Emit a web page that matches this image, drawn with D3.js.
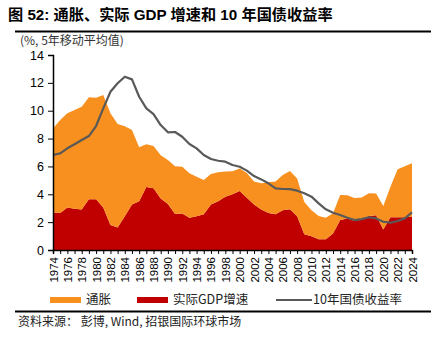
<!DOCTYPE html>
<html>
<head>
<meta charset="utf-8">
<script src="https://cdn.jsdelivr.net/npm/d3@7"></script>
<style>
  body { margin: 0; background: #fff; }
  svg { display: block; }
  text { font-family: "Liberation Sans", Arial, "Noto Sans CJK SC", sans-serif; }
</style>
</head>
<body>
<svg id="chart"></svg>
<script>
////////////
// DATA
////////////
const years = d3.range(1974, 2025);

// real GDP growth, % (5y moving average)
const realGdp = [2.70, 2.66, 3.06, 2.96, 2.91, 3.65, 3.65, 3.06, 1.80, 1.61,
  2.42, 3.26, 3.50, 4.52, 4.44, 3.70, 3.31, 2.59, 2.62, 2.32,
  2.42, 2.57, 3.26, 3.50, 3.83, 4.00, 4.24, 3.75, 3.26, 2.91,
  2.66, 2.57, 2.86, 2.93, 2.42, 1.13, 0.99, 0.77, 0.77, 1.18,
  2.15, 2.27, 2.10, 2.25, 2.44, 2.49, 1.48, 2.35, 2.35, 2.35, 2.39];

// inflation, % (5y moving average), stacked on top of real GDP
const inflation = [6.03, 6.67, 6.75, 7.09, 7.37, 7.31, 7.28, 8.06, 8.01, 7.43,
  6.46, 5.36, 3.87, 3.08, 3.02, 3.11, 3.15, 3.43, 3.36, 3.19,
  2.84, 2.46, 2.20, 2.08, 1.80, 1.65, 1.62, 1.78, 1.65, 1.88,
  2.20, 2.34, 2.52, 2.75, 2.71, 2.32, 1.87, 1.67, 1.55, 1.46,
  1.80, 1.66, 1.63, 1.52, 1.63, 1.56, 1.68, 2.19, 3.44, 3.67, 3.83];

// 10y treasury yield, % (5y moving average)
const yield10 = [6.82, 6.94, 7.30, 7.59, 7.90, 8.18, 8.90, 10.17, 11.36, 11.97,
  12.44, 12.25, 11.00, 10.17, 9.76, 8.97, 8.45, 8.47, 8.13, 7.61,
  7.30, 6.82, 6.53, 6.41, 6.34, 6.10, 5.98, 5.70, 5.31, 5.07,
  4.79, 4.43, 4.38, 4.37, 4.26, 4.07, 3.83, 3.35, 2.92, 2.68,
  2.51, 2.32, 2.15, 2.22, 2.35, 2.27, 2.03, 1.96, 2.08, 2.27, 2.70];

const yTicks = [0, 2, 4, 6, 8, 10, 12, 14];

const legendItems = [
  { label: "通胀", color: "#F7901E", type: "rect" },
  { label: "实际GDP增速", color: "#C00000", type: "rect" },
  { label: "10年国债收益率", color: "#595959", type: "line" }
];

////////////
// SETUP
////////////
const width = 440, height = 341;
const svg = d3.select("#chart").attr("width", width).attr("height", height);

const x = d3.scaleLinear().domain([1974, 2024]).range([53, 412]);
const y = d3.scaleLinear().domain([0, 14]).range([250, 55]);

const rows = years.map((yr, i) => ({ year: yr, gdp: realGdp[i], cpi: inflation[i], y10: yield10[i] }));

// title + rules
svg.append("text")
  .attr("x", 8).attr("y", 20)
  .attr("font-size", 15.2).attr("font-weight", "bold")
  .attr("fill", "#000")
  .text("图 52: 通胀、实际 GDP 增速和 10 年国债收益率");

svg.append("line")
  .attr("x1", 15).attr("x2", 431).attr("y1", 31.5).attr("y2", 31.5)
  .attr("stroke", "#000").attr("stroke-width", 2);

svg.append("text")
  .attr("x", 20).attr("y", 45)
  .attr("font-size", 12).attr("fill", "#333")
  .style("font-family", "'Noto Sans CJK SC', sans-serif")
  .text("(%, 5年移动平均值)");

////////////
// DRAWING
////////////
const stacked = d3.stack().keys(["gdp", "cpi"])(rows);
const colors = { gdp: "#C00000", cpi: "#F7901E" };

const area = d3.area()
  .x(d => x(d.data.year))
  .y0(d => y(d[0]))
  .y1(d => y(d[1]));

svg.append("g")
  .selectAll("path")
  .data(stacked)
  .join("path")
  .attr("d", area)
  .attr("fill", d => colors[d.key]);

const line = d3.line().x(d => x(d.year)).y(d => y(d.y10));
svg.append("path")
  .datum(rows)
  .attr("d", line)
  .attr("fill", "none")
  .attr("stroke", "#595959")
  .attr("stroke-width", 2.2)
  .attr("stroke-linejoin", "round");

// y axis
const yAxis = svg.append("g")
  .attr("transform", "translate(53,0)")
  .call(d3.axisLeft(y).tickValues(yTicks).tickSize(5).tickPadding(4));
yAxis.select(".domain").attr("stroke-width", 1.5);
yAxis.selectAll("text").attr("font-size", 12.5).attr("fill", "#000")
  .style("font-family", "'Liberation Sans', Arial, sans-serif");

// x axis
const xAxis = svg.append("g")
  .attr("transform", "translate(0,250)")
  .call(d3.axisBottom(x).tickValues(years).tickSize(4).tickFormat(d => d % 2 === 0 ? d : ""));
xAxis.select(".domain").attr("stroke-width", 1.5);
xAxis.selectAll("text")
  .attr("font-size", 11.5).attr("fill", "#000")
  .style("font-family", "'Liberation Sans', Arial, sans-serif")
  .attr("text-anchor", "end")
  .attr("transform", "rotate(-90)")
  .attr("x", -7).attr("y", 0).attr("dy", "0.35em");

// legend
const legendX = [50, 137, 276];
const legend = svg.append("g").attr("transform", "translate(0,300)");
legendItems.forEach((item, i) => {
  const g = legend.append("g").attr("transform", `translate(${legendX[i]},0)`);
  if (item.type === "rect") {
    g.append("rect").attr("x", 0).attr("y", -3).attr("width", 31).attr("height", 6).attr("fill", item.color);
  } else {
    g.append("line").attr("x1", 0).attr("x2", 36).attr("y1", 0).attr("y2", 0)
      .attr("stroke", item.color).attr("stroke-width", 2.2);
  }
  g.append("text").attr("x", item.type === "rect" ? 36 : 37).attr("y", 0).attr("dy", "0.35em")
    .attr("font-size", 12.5).attr("fill", "#222")
    .style("font-family", "'Noto Sans CJK SC', sans-serif")
    .text(item.label);
});

svg.append("line")
  .attr("x1", 15).attr("x2", 431).attr("y1", 311.5).attr("y2", 311.5)
  .attr("stroke", "#000").attr("stroke-width", 2);

svg.append("text")
  .attr("x", 18).attr("y", 326)
  .attr("font-size", 12).attr("fill", "#222")
  .style("font-family", "'Noto Sans CJK SC', sans-serif")
  .text("资料来源： 彭博, Wind, 招银国际环球市场");
</script>
</body>
</html>
